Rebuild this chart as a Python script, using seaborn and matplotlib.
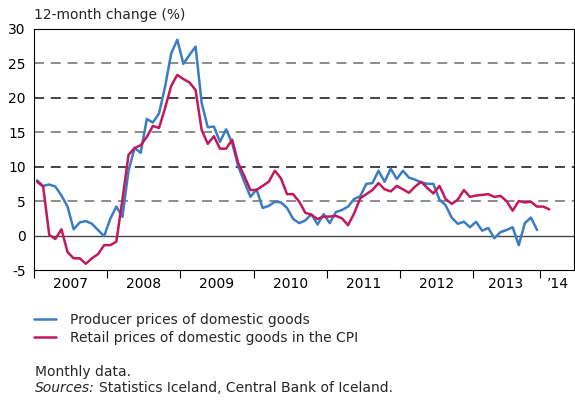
import numpy as np
import pandas as pd
import matplotlib
matplotlib.use("Agg")
import matplotlib.pyplot as plt
import seaborn as sns

# Monthly data, Jan 2007 onwards (12-month change, %)
producer = [8.0, 7.2, 7.4, 7.1, 5.8, 4.2, 0.9, 1.9, 2.1, 1.7, 0.8, -0.1,
            2.4, 4.2, 2.7, 9.4, 12.7, 12.0, 16.9, 16.4, 17.7, 21.6, 26.4, 28.4,
            24.9, 26.2, 27.4, 19.2, 15.7, 15.8, 13.6, 15.4, 13.4, 10.0, 7.8, 5.6,
            6.7, 4.0, 4.3, 4.9, 4.8, 4.0, 2.4, 1.8, 2.2, 3.1, 1.6, 3.1,
            1.8, 3.4, 3.7, 4.2, 5.3, 5.7, 7.5, 7.6, 9.4, 7.8, 9.7, 8.2,
            9.4, 8.4, 8.1, 7.7, 7.5, 7.5, 5.2, 4.4, 2.6, 1.7, 2.0, 1.2,
            2.0, 0.7, 1.1, -0.4, 0.5, 0.8, 1.2, -1.4, 1.8, 2.6, 0.8]
retail = [7.8, 7.1, 0.1, -0.5, 0.9, -2.4, -3.3, -3.3, -4.1, -3.3, -2.7, -1.4,
          -1.4, -0.9, 5.2, 11.7, 12.7, 13.1, 14.3, 15.9, 15.6, 18.5, 21.7, 23.3,
          22.7, 22.2, 21.1, 15.3, 13.3, 14.4, 12.6, 12.6, 13.9, 10.5, 8.6, 6.6,
          6.6, 7.2, 7.8, 9.4, 8.3, 6.0, 6.0, 4.9, 3.3, 3.0, 2.4, 2.75,
          2.75, 2.85, 2.5, 1.5, 3.2, 5.4, 6.0, 6.6, 7.6, 6.7, 6.4, 7.2,
          6.7, 6.2, 7.1, 7.8, 6.9, 6.1, 7.2, 5.3, 4.6, 5.2, 6.6, 5.6,
          5.8, 5.9, 6.0, 5.6, 5.75, 5.0, 3.6, 5.0, 4.8, 4.9, 4.2, 4.2, 3.8]

series_names = ["Producer prices of domestic goods",
                "Retail prices of domestic goods in the CPI"]
year_labels = ["2007", "2008", "2009", "2010", "2011", "2012", "2013", "\u201914"]
y_ticks = [-5, 0, 5, 10, 15, 20, 25, 30]

colors = {series_names[0]: "#3a7dc2", series_names[1]: "#c2185d"}

def to_frame(vals, name):
    i = np.arange(len(vals))
    return pd.DataFrame({"date": 2007 + (i + 0.5) / 12.0, "value": vals, "series": name})

df = pd.concat([to_frame(producer, series_names[0]), to_frame(retail, series_names[1])],
               ignore_index=True)

sns.set_style("white")
plt.rcParams["font.family"] = ["DejaVu Sans"]

W, H = 575, 407
fig = plt.figure(figsize=(W / 100, H / 100), dpi=100)
ax = fig.add_axes([34 / W, 1 - 270 / H, (574 - 34) / W, (270 - 28.7) / H])

# gridlines
for v in [5, 10, 15, 20, 25]:
    col = "#6e6e6e" if v in (5, 15, 25) else "#111111"
    ax.axhline(v, color=col, lw=1.1, ls=(0, (6.5, 4.5)), zorder=1)
ax.axhline(0, color="#444444", lw=1.0, zorder=1)

sns.lineplot(data=df, x="date", y="value", hue="series", palette=colors,
             linewidth=1.8, ax=ax, legend=True, zorder=3)

ax.set_xlim(2007.0, 2014.38)
ax.set_ylim(-5, 30)
ax.set_yticks(y_ticks)
ax.set_yticklabels([str(t) for t in y_ticks])
ax.set_xticks([2007, 2008, 2009, 2010, 2011, 2012, 2013, 2013.91])
ax.set_xticklabels([])
ax.set_xticks([2007.5, 2008.5, 2009.5, 2010.5, 2011.5, 2012.5, 2013.45, 2014.16], minor=True)
ax.set_xticklabels(year_labels, minor=True)
ax.tick_params(axis="x", which="major", direction="out", length=5.5, width=0.8,
               color="black", bottom=True)
ax.tick_params(axis="x", which="minor", length=0, labelsize=10, pad=5, colors="black")
ax.tick_params(axis="y", length=0, labelsize=10, pad=6, colors="black")
ax.set_xlabel("")
ax.set_ylabel("")
for s in ax.spines.values():
    s.set_visible(True)
    s.set_color("black")
    s.set_linewidth(0.8)

fig.text(34 / W, 1 - 15 / H, "12-month change (%)", fontsize=10, ha="left", va="center")

handles, labels = ax.get_legend_handles_labels()
ax.legend(handles, labels, loc="upper left", bbox_to_anchor=(28 / W, 1 - 307 / H),
          bbox_transform=fig.transFigure, frameon=False, fontsize=10,
          handlelength=1.6, handletextpad=1.0, labelspacing=0.3, borderaxespad=0)

fig.text(35 / W, 1 - 372 / H, "Monthly data.", fontsize=10, ha="left", va="center")
t_src = fig.text(35 / W, 1 - 388 / H, "Sources:", fontsize=10, ha="left", va="center",
                 style="italic")
renderer = fig.canvas.get_renderer()
bb = t_src.get_window_extent(renderer=renderer)
fig.text((bb.x1 + 4) / W, 1 - 388 / H, "Statistics Iceland, Central Bank of Iceland.",
         fontsize=10, ha="left", va="center")

fig.savefig("out.png", dpi=100)
